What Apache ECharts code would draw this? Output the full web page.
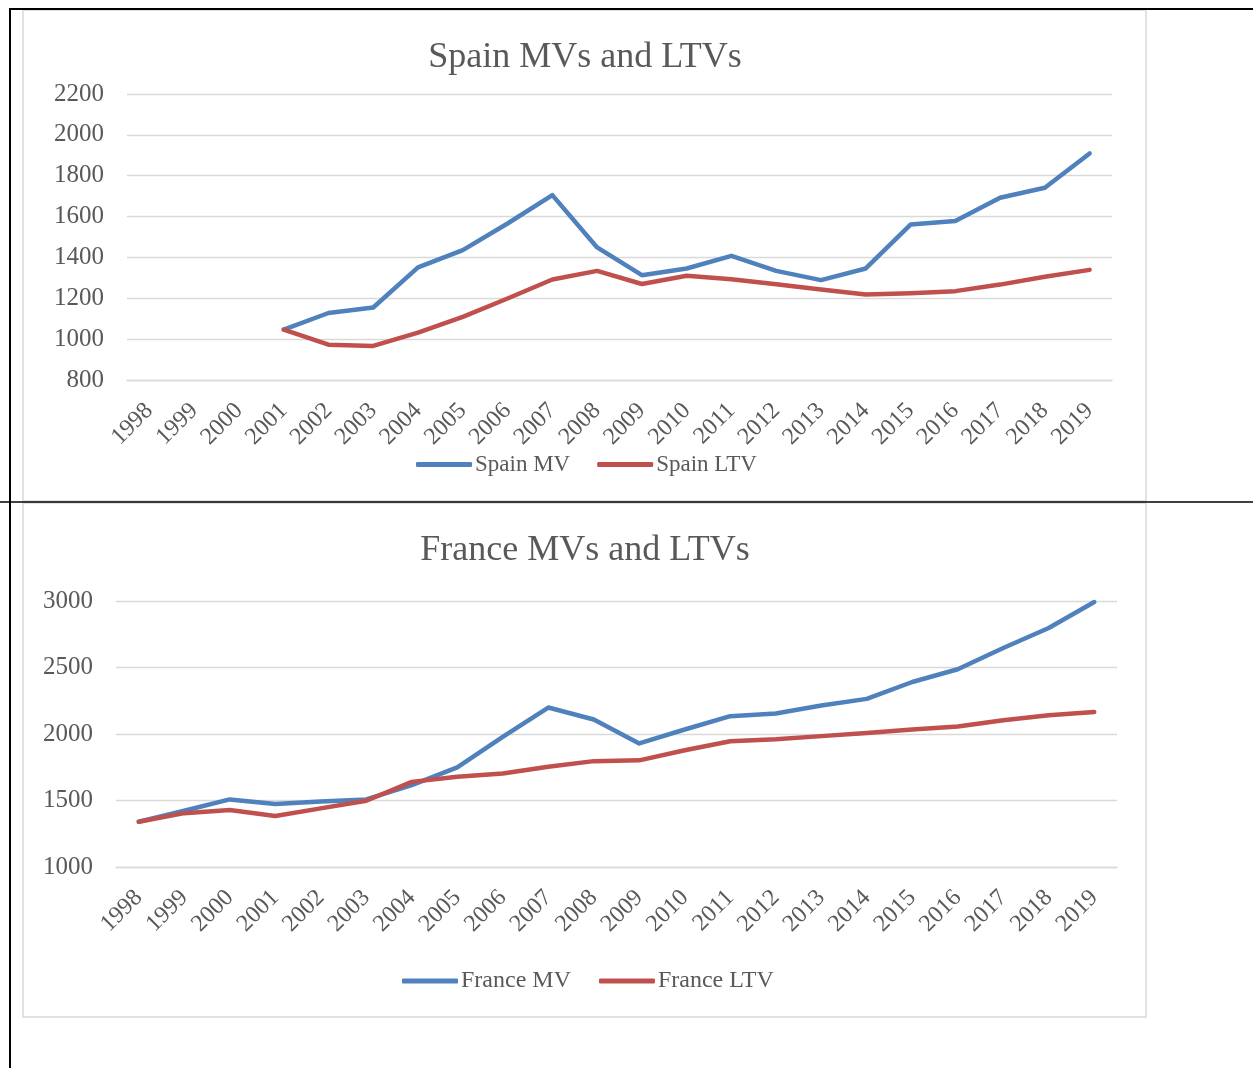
<!DOCTYPE html>
<html>
<head>
<meta charset="utf-8">
<script src="https://cdn.jsdelivr.net/npm/echarts@6/dist/echarts.min.js"></script>
<style>
html, body { margin: 0; padding: 0; background: #fff; }
#main { width: 1253px; height: 1068px; }
</style>
</head>
<body>
<div id="main"></div>
<script>
var years = ['1998', '1999', '2000', '2001', '2002', '2003', '2004', '2005', '2006', '2007', '2008',
	'2009', '2010', '2011', '2012', '2013', '2014', '2015', '2016', '2017', '2018', '2019'];

var spainMV = [null, null, null, 1047, 1128, 1155, 1351, 1436, 1566, 1705, 1449,
	1313, 1346, 1408, 1334, 1289, 1346, 1561, 1578, 1692, 1741, 1909];
var spainLTV = [null, null, null, 1047, 973, 967, 1032, 1109, 1199, 1292, 1334,
	1270, 1310, 1293, 1269, 1243, 1218, 1225, 1235, 1267, 1305, 1339];

var franceMV = [1340, 1423, 1508, 1473, 1493, 1508, 1615, 1749, 1978, 2199, 2109,
	1929, 2034, 2134, 2154, 2214, 2264, 2391, 2487, 2647, 2797, 2992];
var franceLTV = [1340, 1405, 1428, 1383, 1441, 1498, 1640, 1678, 1703, 1753, 1796,
	1802, 1878, 1946, 1961, 1984, 2008, 2034, 2056, 2104, 2141, 2166];

var FONT = 'Liberation Serif';
var TEXT = '#595959';
var GRID = '#d9d9d9';
var BLUE = '#4f81bd';
var RED = '#c0504d';

function lineSeries(name, data, color, idx) {
	return {
		name: name,
		type: 'line',
		xAxisIndex: idx,
		yAxisIndex: idx,
		data: data,
		symbol: 'none',
		connectNulls: false,
		lineStyle: {color: color, width: 4.5, cap: 'round', join: 'round'},
		itemStyle: {color: color}
	};
}

function xAxis(idx) {
	return {
		type: 'category',
		gridIndex: idx,
		data: years,
		boundaryGap: true,
		axisLine: {show: true, lineStyle: {color: GRID, width: 1.3}},
		axisTick: {show: false},
		axisLabel: {interval: 0, rotate: 45, margin: 27, color: TEXT, fontFamily: FONT, fontSize: 24}
	};
}

function yAxis(idx, min, max, step) {
	return {
		type: 'value',
		gridIndex: idx,
		min: min,
		max: max,
		interval: step,
		axisLine: {show: false},
		axisTick: {show: false},
		splitLine: {lineStyle: {color: GRID, width: 1.3}},
		axisLabel: {
			margin: 23, color: TEXT, fontFamily: FONT, fontSize: 25,
			formatter: function (v) { return String(v); }
		}
	};
}

var chart = echarts.init(document.getElementById('main'));
chart.setOption({
	animation: false,
	backgroundColor: '#fff',
	title: [{
		text: 'Spain MVs and LTVs',
		left: 580,
		top: 35,
		textAlign: 'center',
		textStyle: {color: TEXT, fontFamily: FONT, fontSize: 36, fontWeight: 'normal'}
	}, {
		text: 'France MVs and LTVs',
		left: 580,
		top: 528,
		textAlign: 'center',
		textStyle: {color: TEXT, fontFamily: FONT, fontSize: 36, fontWeight: 'normal'}
	}],
	legend: [{
		data: ['Spain MV', 'Spain LTV'],
		left: 411,
		top: 448,
		icon: 'roundRect',
		itemWidth: 56,
		itemHeight: 5,
		itemGap: 27,
		textStyle: {color: TEXT, fontFamily: FONT, fontSize: 23, padding: [0, 0, 0, -2]}
	}, {
		data: ['France MV', 'France LTV'],
		left: 397,
		top: 964,
		icon: 'roundRect',
		itemWidth: 56,
		itemHeight: 5,
		itemGap: 28,
		textStyle: {color: TEXT, fontFamily: FONT, fontSize: 24, padding: [0, 0, 0, -2]}
	}],
	grid: [
		{left: 127, right: 141, top: 94, height: 286},
		{left: 116, right: 136, top: 601, height: 266}
	],
	xAxis: [xAxis(0), xAxis(1)],
	yAxis: [yAxis(0, 800, 2200, 200), yAxis(1, 1000, 3000, 500)],
	series: [
		lineSeries('Spain MV', spainMV, BLUE, 0),
		lineSeries('Spain LTV', spainLTV, RED, 0),
		lineSeries('France MV', franceMV, BLUE, 1),
		lineSeries('France LTV', franceLTV, RED, 1)
	],
	graphic: [
		{type: 'rect', z: -1, shape: {x: 23, y: 10, width: 1123, height: 491}, style: {fill: 'none', stroke: GRID, lineWidth: 1.5}},
		{type: 'rect', z: -1, shape: {x: 23, y: 503, width: 1123, height: 514}, style: {fill: 'none', stroke: GRID, lineWidth: 1.5}},
		{type: 'line', shape: {x1: 10, y1: 9, x2: 1253, y2: 9}, style: {stroke: '#000', lineWidth: 2}},
		{type: 'line', shape: {x1: 10, y1: 8, x2: 10, y2: 1068}, style: {stroke: '#000', lineWidth: 2}},
		{type: 'line', shape: {x1: 0, y1: 502, x2: 1253, y2: 502}, style: {stroke: '#000', lineWidth: 1.5}}
	]
});
</script>
</body>
</html>
